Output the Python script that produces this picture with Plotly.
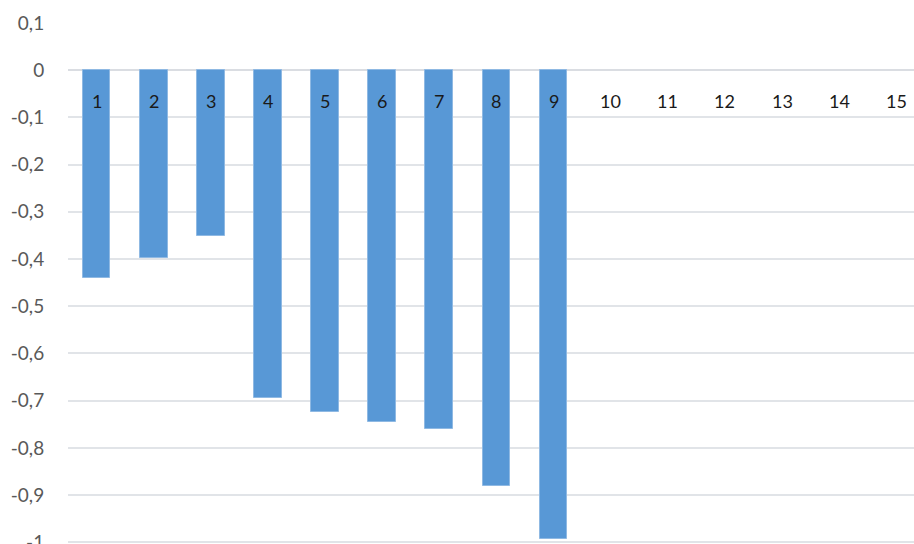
import plotly.graph_objects as go

categories = list(range(1, 16))
values = [-0.44, -0.397, -0.352, -0.695, -0.725, -0.746, -0.759, -0.881, -0.993,
          None, None, None, None, None, None]
tick_vals = [0.1, 0, -0.1, -0.2, -0.3, -0.4, -0.5, -0.6, -0.7, -0.8, -0.9, -1]
tick_text = ["0,1", "0", "-0,1", "-0,2", "-0,3", "-0,4", "-0,5", "-0,6", "-0,7",
             "-0,8", "-0,9", "-1"]

fig = go.Figure()
fig.add_trace(go.Bar(
    x=categories, y=values, width=0.485,
    marker=dict(color="#5898d6", line=dict(color="#8fb9e3", width=1)),
    hoverinfo="skip",
))

for c in categories:
    fig.add_annotation(x=c, y=0, xref="x", yref="y", text=str(c),
                       showarrow=False, yanchor="middle", yshift=-31,
                       font=dict(family="Lato, Liberation Sans, sans-serif", size=18, color="#1a1a1a"))

fig.update_layout(
    width=914, height=544,
    margin=dict(l=68, r=0, t=23, b=0),
    paper_bgcolor="white", plot_bgcolor="white",
    showlegend=False,
    bargap=0,
)
fig.update_xaxes(range=[0.5, 15.31], showticklabels=False, showgrid=False,
                 zeroline=False, showline=False, ticks="")
fig.update_yaxes(range=[-1.0036, 0.1], tickvals=tick_vals, ticktext=tick_text,
                 showgrid=True, gridcolor="#e1e4e8", gridwidth=1.5,
                 zeroline=True, zerolinecolor="#dadde2", zerolinewidth=1.5,
                 ticks="outside", ticklen=19, tickcolor="rgba(0,0,0,0)",
                 automargin=False, ticklabeloverflow="allow",
                 tickfont=dict(family="Lato, Liberation Sans, sans-serif", size=19, color="#595959"))

fig.write_html("out.html")
